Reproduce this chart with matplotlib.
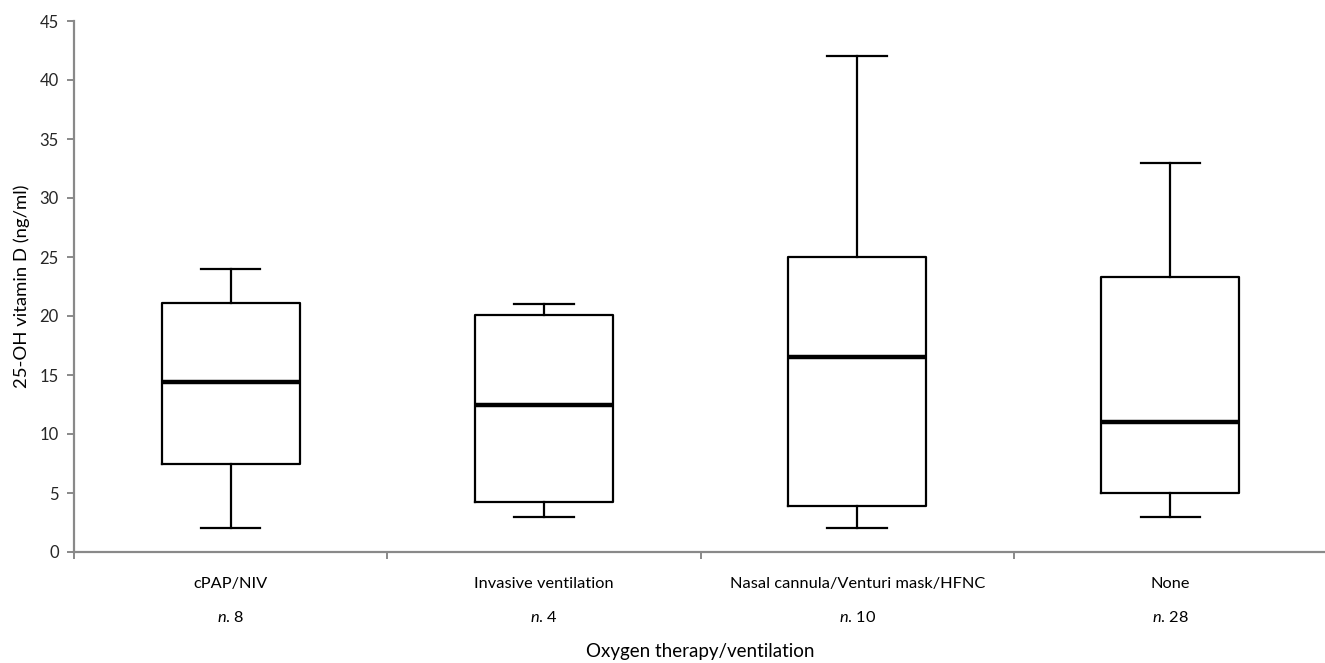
import matplotlib
matplotlib.use("Agg")
import matplotlib.pyplot as plt

plt.rcParams["font.family"] = ["Lato", "DejaVu Sans"]
plt.rcParams["mathtext.fontset"] = "custom"
plt.rcParams["mathtext.rm"] = "Lato"
plt.rcParams["mathtext.it"] = "Lato:italic"

# data
groups = ["cPAP/NIV", "Invasive ventilation", "Nasal cannula/Venturi mask/HFNC", "None"]
counts = [8, 4, 10, 28]
whisker_low = [2.0, 3.0, 2.0, 3.0]
q1 = [7.5, 4.2, 3.9, 5.0]
median = [14.4, 12.5, 16.5, 11.0]
q3 = [21.1, 20.1, 25.0, 23.3]
whisker_high = [24.0, 21.0, 42.0, 33.0]

axis_grey = "#898989"

fig = plt.figure(figsize=(13.25, 6.63), dpi=100)
ax = fig.add_axes([74 / 1325, 111 / 663, 1253 / 1325, 531 / 663])

stats = []
for i, name in enumerate(groups):
    stats.append({"label": name, "whislo": whisker_low[i], "q1": q1[i],
                  "med": median[i], "q3": q3[i], "whishi": whisker_high[i],
                  "fliers": []})

ax.bxp(stats, positions=range(len(groups)), widths=0.44, showfliers=False,
       boxprops={"color": "black", "linewidth": 1.6},
       whiskerprops={"color": "black", "linewidth": 1.6},
       capprops={"color": "black", "linewidth": 1.6},
       medianprops={"color": "black", "linewidth": 3.2},
       capwidths=0.19)

ax.set_xlim(-0.5, len(groups) - 0.5)
ax.set_ylim(0, 45)
ax.set_yticks(range(0, 46, 5))

# category boundaries as ticks, labels drawn as text
ax.set_xticks([i - 0.5 for i in range(len(groups))])
ax.set_xticklabels([])
for i, name in enumerate(groups):
    ax.text(i, -0.06, name, transform=ax.get_xaxis_transform(),
            ha="center", va="center", fontsize=11.8)
    ax.text(i, -0.123, r"$\mathit{n}$. " + str(counts[i]),
            transform=ax.get_xaxis_transform(),
            ha="center", va="center", fontsize=11.8)

ax.text(0.5, -0.187, "Oxygen therapy/ventilation", transform=ax.transAxes,
        ha="center", va="center", fontsize=13.5)
ax.set_ylabel("25-OH vitamin D (ng/ml)", fontsize=13.3, labelpad=7)

for side in ("top", "right"):
    ax.spines[side].set_visible(False)
for side in ("left", "bottom"):
    ax.spines[side].set_color(axis_grey)
    ax.spines[side].set_linewidth(1.6)
ax.tick_params(axis="both", colors=axis_grey, width=1.4, length=5,
               labelcolor="#262626", labelsize=12)
ax.tick_params(axis="y", pad=6)

fig.savefig("out.png", dpi=100)
